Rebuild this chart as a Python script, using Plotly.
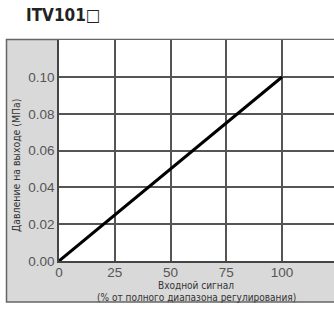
import plotly.graph_objects as go

# Data
signal_pct = [0, 100]
pressure_mpa = [0.0, 0.10]
x_ticks = [0, 25, 50, 75, 100]
y_ticks = [0.00, 0.02, 0.04, 0.06, 0.08, 0.10]
y_tick_labels = ["0.00", "0.02", "0.04", "0.06", "0.08", "0.10"]
title_text = "ITV101□"
x_title_1 = "Входной сигнал"
x_title_2 = "(% от полного диапазона регулирования)"
y_title = "Давление на выходе (МПа)"

W, H = 334, 311
L, R, T, B = 59, 0, 40, 50

fig = go.Figure()
fig.add_trace(go.Scatter(x=signal_pct, y=pressure_mpa, mode="lines",
                         line=dict(color="#000000", width=3),
                         showlegend=False, hoverinfo="skip", cliponaxis=False))

pw = W - L - R
ph = H - T - B

def px_x(p):
    return (p - L) / pw

def px_y(p):
    return (H - B - p) / ph

# grey frame
fig.add_shape(type="rect", xref="paper", yref="paper",
              x0=px_x(6.5), x1=px_x(340), y0=px_y(302), y1=px_y(39.5),
              fillcolor="#d9d9d9", line=dict(color="#666666", width=1.5),
              layer="below")
# white plot area
fig.add_shape(type="rect", xref="x", yref="y",
              x0=0, x1=130, y0=0, y1=0.13,
              fillcolor="#ffffff", line=dict(width=0),
              layer="below")

cond = "DejaVu Sans Condensed, DejaVu Sans, sans-serif"

fig.update_layout(
    width=W, height=H,
    margin=dict(l=L, r=R, t=T, b=B, pad=0),
    paper_bgcolor="#ffffff",
    plot_bgcolor="rgba(0,0,0,0)",
    font=dict(family="Liberation Sans, Arial, sans-serif", color="#444444"),
    xaxis=dict(range=[0, 123.3], tickvals=x_ticks, ticks="",
               showgrid=True, gridcolor="#555555", gridwidth=1.5,
               zeroline=False, showline=True, linecolor="#444444", linewidth=1.5,
               tickfont=dict(size=13.5, color="#555555"), ticklabelstandoff=-2,
               fixedrange=True),
    yaxis=dict(range=[0, 0.1201], tickvals=y_ticks, ticktext=y_tick_labels, ticks="",
               showgrid=True, gridcolor="#555555", gridwidth=1.5,
               zeroline=False, showline=True, linecolor="#444444", linewidth=1.5,
               tickfont=dict(size=13.5, color="#555555"), ticklabelstandoff=0,
               fixedrange=True),
    annotations=[
        dict(text="<b>" + title_text + "</b>", xref="paper", yref="paper",
             x=px_x(24), y=px_y(15), xanchor="left", yanchor="middle",
             showarrow=False,
             font=dict(family=cond, size=17, color="#222222")),
        dict(text=x_title_1, xref="paper", yref="paper",
             x=px_x(196), y=px_y(285), xanchor="center", yanchor="middle",
             showarrow=False,
             font=dict(family=cond, size=10, color="#333333")),
        dict(text=x_title_2, xref="paper", yref="paper",
             x=px_x(196), y=px_y(297), xanchor="center", yanchor="middle",
             showarrow=False,
             font=dict(family=cond, size=10, color="#333333")),
        dict(text=y_title, xref="paper", yref="paper", textangle=-90,
             x=px_x(16), y=px_y(166), xanchor="center", yanchor="middle",
             showarrow=False,
             font=dict(family=cond, size=10.4, color="#333333")),
    ],
)

fig.write_html("out.html", config={"displayModeBar": False},
               post_script="document.body.style.margin='0';")
